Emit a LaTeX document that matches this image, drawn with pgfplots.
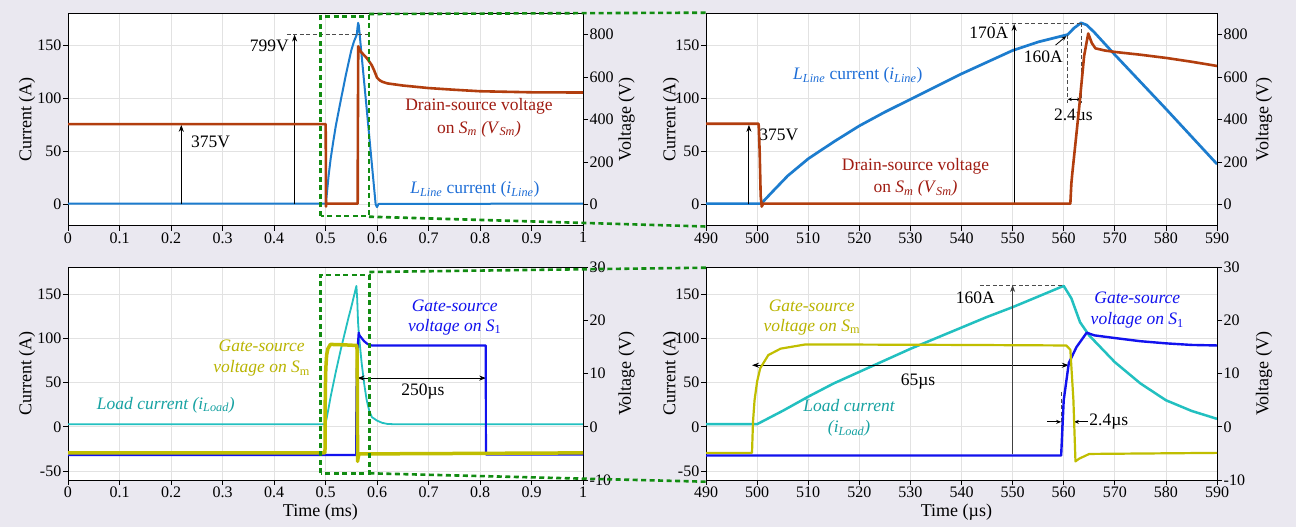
\documentclass[border=0pt]{standalone}
\usepackage{fontspec}
\setmainfont{Liberation Serif}
\usepackage{pgfplots}
\pgfplotsset{compat=1.18}
\usetikzlibrary{arrows.meta}
\definecolor{bgc}{RGB}{234,232,240}
\definecolor{gridc}{RGB}{226,226,226}
\definecolor{cblue}{RGB}{28,124,206}
\definecolor{cbrown}{RGB}{178,62,14}
\definecolor{tred}{RGB}{160,28,18}
\definecolor{tblue}{RGB}{30,110,215}
\definecolor{ccyan}{RGB}{34,192,192}
\definecolor{tcyan}{RGB}{22,162,162}
\definecolor{cyel}{RGB}{192,190,0}
\definecolor{tyel}{RGB}{185,180,0}
\definecolor{cgb}{RGB}{18,18,238}
\definecolor{zg}{RGB}{18,140,18}
\newcommand{\ann}{\fontsize{17.5bp}{21bp}\selectfont}
\newcommand{\Lline}{\textit{L}\textsubscript{\textit{Line}}}
\newcommand{\iline}{\textit{i}\textsubscript{\textit{Line}}}
\tikzset{
  arr/.style={-{Stealth[length=7bp,width=5bp]}, line width=1bp, black},
  darr/.style={{Stealth[length=7bp,width=5bp]}-{Stealth[length=7bp,width=5bp]}, line width=1bp, black},
  sarr/.style={-{Stealth[length=5bp,width=4bp]}, line width=0.8bp, black},
  dsh/.style={dash pattern=on 4bp off 2.5bp, line width=0.8bp, black!70},
  zoomg/.style={zg, line width=2.6bp, dash pattern=on 5bp off 3.5bp},
}
\pgfplotsset{
 base/.style={scale only axis, anchor=south west, tick align=outside,
   major tick length=5bp, tick style={black,line width=0.7bp},
   axis line style={black,line width=0.9bp},
   /pgf/number format/assume math mode=true,
   tick label style={font=\fontsize{16bp}{16bp}\selectfont, inner sep=1.5bp},
   label style={font=\fontsize{18bp}{18bp}\selectfont},
 },
 cur/.style={base, axis background/.style={fill=white}, grid=major,
   grid style={gridc,line width=0.7bp}, xtick pos=bottom, ytick pos=left,
   ylabel={Current (A)}},
 volt/.style={base, axis x line=none, axis y line*=right, ylabel={Voltage (V)}},
 topL/.style={at={(68bp,301.3bp)}, width=515bp, height=212.4bp, xmin=0, xmax=1},
 topR/.style={at={(706bp,301.3bp)}, width=511bp, height=212.4bp, xmin=490, xmax=590},
 botL/.style={at={(68bp,47bp)}, width=515bp, height=212.7bp, xmin=0, xmax=1},
 botR/.style={at={(706bp,47bp)}, width=511bp, height=212.7bp, xmin=490, xmax=590},
}
\begin{document}
\begin{tikzpicture}
\fill[bgc] (0bp,0bp) rectangle (1296bp,527bp);

% ---------------- top left ----------------
\begin{axis}[cur, topL, ymin=-20, ymax=180,
  xtick={0,0.1,0.2,0.3,0.4,0.5,0.6,0.7,0.8,0.9,1}, ytick={0,50,100,150},
  ylabel style={at={(axis description cs:-0.0796,0.5)},anchor=center}]
\addplot[cblue, line width=2bp, line join=round] coordinates {
(0,0.8) (0.5008,0.8) (0.503,12) (0.506,27) (0.51,43) (0.515,59) (0.52,74) (0.53,99) (0.54,123) (0.55,145) (0.555,153) (0.5608,160) (0.562,166) (0.5634,171) (0.5645,169) (0.566,162) (0.57,141) (0.58,90) (0.59,38) (0.5974,0) (0.6,-2.5) (0.603,0.5) (1,0.8)};
\draw[arr] (axis cs:0.22,0) -- (axis cs:0.22,75);
\node[font=\ann, anchor=west] at (axis cs:0.232,59) {375V};
\draw[arr] (axis cs:0.44,0) -- (axis cs:0.44,160);
\draw[dsh] (axis cs:0.425,160) -- (axis cs:0.585,160);
\node[font=\ann, anchor=east, inner sep=0pt] at (axis cs:0.429,149) {799V};
\node[font=\ann, text=tred] at (axis cs:0.798,92) {Drain-source voltage};
\node[font=\ann, text=tred] at (axis cs:0.798,71) {on \textit{S}\textsubscript{\textit{m}} \textit{(V}\textsubscript{\textit{Sm}}\textit{)}};
\node[font=\ann, text=tblue] at (axis cs:0.79,14) {\Lline{} current (\iline)};
\end{axis}
\begin{axis}[volt, topL, ymin=-100, ymax=900, ytick={0,200,400,600,800},
  ylabel style={at={(axis description cs:1.0847,0.5)},anchor=center}]
\addplot[cbrown, line width=2.6bp, line join=round] coordinates {
(0,378) (0.5003,378) (0.5006,250) (0.5009,-10) (0.5012,4) (0.5625,4) (0.5628,300) (0.5636,745) (0.5645,738) (0.566,730) (0.568,722) (0.57,715) (0.58,690) (0.59,655) (0.595,628) (0.6,597) (0.605,585) (0.61,578) (0.62,570) (0.65,560) (0.7,548) (0.75,540) (0.8,533) (0.9,528) (1,527)};
\end{axis}

% ---------------- top right ----------------
\begin{axis}[cur, topR, ymin=-20, ymax=180,
  xtick={490,500,...,590}, ytick={0,50,100,150},
  ylabel style={at={(axis description cs:-0.0685,0.5)},anchor=center}]
\addplot[cblue, line width=2.7bp, line join=round] coordinates {
(490,0.8) (500.8,0.8) (503,12) (506,27) (510,43) (515,59) (520,74) (525,87) (530,99) (535,111) (540,123) (545,134) (550,145) (555,153) (560.8,160) (562,166) (563.4,171) (564.5,169) (566,162) (570,141) (580,90) (590,38)};
\draw[arr] (axis cs:498.4,0) -- (axis cs:498.4,75);
\node[font=\ann, anchor=west, inner sep=1bp] at (axis cs:500.2,66) {375V};
\draw[arr] (axis cs:550.3,0) -- (axis cs:550.3,170);
\draw[dsh] (axis cs:546,170.5) -- (axis cs:563.4,170.5);
\node[font=\ann, anchor=east, inner sep=0pt] at (axis cs:549.2,162) {170A};
\node[font=\ann] at (axis cs:556,139.5) {160A};
\draw[sarr] (axis cs:558.4,150) -- (axis cs:560.5,158.5);
\draw[dsh] (axis cs:560.8,160) -- (axis cs:560.8,96);
\draw[dsh] (axis cs:563.4,171) -- (axis cs:563.4,96);
\draw[{Stealth[length=4bp,width=3.5bp]}-{Stealth[length=4bp,width=3.5bp]}, line width=0.8bp] (axis cs:560.8,99) -- (axis cs:563.4,99);
\node[font=\ann] at (axis cs:561.9,83) {2.4µs};
\node[font=\ann, text=tblue] at (axis cs:519.7,121.4) {\Lline{} current (\iline)};
\node[font=\ann, text=tred] at (axis cs:531,36) {Drain-source voltage};
\node[font=\ann, text=tred] at (axis cs:531,15) {on \textit{S}\textsubscript{\textit{m}} \textit{(V}\textsubscript{\textit{Sm}}\textit{)}};
\end{axis}
\begin{axis}[volt, topR, ymin=-100, ymax=900, ytick={0,200,400,600,800},
  ylabel style={at={(axis description cs:1.092,0.5)},anchor=center}]
\addplot[cbrown, line width=2.6bp, line join=round] coordinates {
(490,380) (500.3,380) (500.5,250) (500.7,40) (500.9,-10) (501.2,4) (561.3,4) (561.5,100) (561.7,150) (563,450) (564,700) (564.8,805) (565.5,760) (566.2,735) (568,725) (570,718) (575,705) (580,690) (585,672) (590,652)};
\end{axis}

% ---------------- bottom left ----------------
\begin{axis}[cur, botL, ymin=-60, ymax=180,
  xtick={0,0.1,0.2,0.3,0.4,0.5,0.6,0.7,0.8,0.9,1}, ytick={-50,0,50,100,150},
  ylabel style={at={(axis description cs:-0.0796,0.5)},anchor=center},
  xlabel={Time (ms)},
  xlabel style={at={(axis description cs:0.49,0)},anchor=center,yshift=-31.7bp}]
\addplot[ccyan, line width=1.8bp, line join=round] coordinates {
(0,3) (0.5,3) (0.502,9) (0.505,18) (0.51,34) (0.52,62) (0.53,88) (0.54,112) (0.545,124) (0.55,135) (0.555,147) (0.56,159) (0.5615,145) (0.5632,118) (0.565,103) (0.57,73) (0.575,49) (0.58,30) (0.585,18) (0.59,11) (0.6,7) (0.61,4.5) (0.62,3.3) (0.63,3) (1,3)};
\node[font=\ann\itshape, text=cgb] at (axis cs:0.751,137) {Gate-source};
\node[font=\ann\itshape, text=cgb] at (axis cs:0.751,112.6) {voltage on S\textsubscript{\upshape 1}};
\node[font=\ann\itshape, text=tyel] at (axis cs:0.376,91) {Gate-source};
\node[font=\ann\itshape, text=tyel] at (axis cs:0.376,65.7) {voltage on S\textsubscript{\upshape m}};
\draw[darr] (axis cs:0.562,55) -- (axis cs:0.812,55);
\node[font=\ann] at (axis cs:0.689,39.4) {250µs};
\node[font=\ann\itshape, text=tcyan] at (axis cs:0.19,24.4) {Load current (i\textsubscript{Load})};
\end{axis}
\begin{axis}[volt, botL, ymin=-10, ymax=30, ytick={-10,0,10,20,30},
  ylabel style={at={(axis description cs:1.0847,0.5)},anchor=center}]
\addplot[cgb, line width=2.2bp, line join=round] coordinates {
(0,-5.3) (0.5595,-5.3) (0.56,5) (0.561,12) (0.5625,15) (0.5645,17.7) (0.566,17.2) (0.57,16.7) (0.575,16.1) (0.58,15.7) (0.585,15.4) (0.59,15.3) (0.8112,15.3) (0.8115,-5.2) (1,-5.2)};
\addplot[cyel, line width=3.5bp, line join=round] coordinates {
(0,-4.9) (0.499,-4.9) (0.4992,1) (0.4995,5) (0.5,8.5) (0.5006,11) (0.5022,13.5) (0.5046,14.7) (0.5095,15.5) (0.54,15.4) (0.5605,15.3) (0.5613,14.5) (0.5619,5) (0.5623,-6.5) (0.563,-6) (0.565,-5.1) (1,-4.9)};
\end{axis}

% ---------------- bottom right ----------------
\begin{axis}[cur, botR, ymin=-60, ymax=180,
  xtick={490,500,...,590}, ytick={-50,0,50,100,150},
  ylabel style={at={(axis description cs:-0.0685,0.5)},anchor=center},
  xlabel={Time (µs)},
  xlabel style={at={(axis description cs:0.49,0)},anchor=center,yshift=-31.7bp}]
\addplot[ccyan, line width=2.5bp, line join=round] coordinates {
(490,3) (500,3) (502,9) (505,18) (510,34) (515,49) (520,62) (525,75) (530,88) (535,100) (540,112) (545,124) (550,135) (555,147) (560,159) (561.5,145) (563.2,118) (565,103) (570,73) (575,49) (580,30) (585,18) (590,9)};
\node[font=\ann\itshape, text=tyel] at (axis cs:510.7,137) {Gate-source};
\node[font=\ann\itshape, text=tyel] at (axis cs:510.7,112.6) {voltage on S\textsubscript{\upshape m}};
\node[font=\ann\itshape, text=cgb] at (axis cs:574.4,145.7) {Gate-source};
\node[font=\ann\itshape, text=cgb] at (axis cs:574.4,120) {voltage on S\textsubscript{\upshape 1}};
\draw[darr] (axis cs:499,69.5) -- (axis cs:561,69.5);
\node[font=\ann] at (axis cs:531.5,51.5) {65µs};
\draw[arr, black!75] (axis cs:550,-31) -- (axis cs:550,160);
\draw[dsh] (axis cs:543.6,160) -- (axis cs:560,160);
\node[font=\ann] at (axis cs:542.7,146) {160A};
\node[font=\ann\itshape, text=tcyan] at (axis cs:518,24.4) {Load current};
\node[font=\ann\itshape, text=tcyan] at (axis cs:518,-1.8) {(i\textsubscript{Load})};
\draw[dsh] (axis cs:559.5,39) -- (axis cs:559.5,-33);
\draw[dsh] (axis cs:562,7) -- (axis cs:562,-35);
\draw[sarr] (axis cs:556.8,5.6) -- (axis cs:559.5,5.6);
\draw[sarr] (axis cs:564.7,5.6) -- (axis cs:562,5.6);
\node[font=\ann, anchor=west, inner sep=1bp] at (axis cs:564.8,5.6) {2.4µs};
\end{axis}
\begin{axis}[volt, botR, ymin=-10, ymax=30, ytick={-10,0,10,20,30},
  ylabel style={at={(axis description cs:1.092,0.5)},anchor=center}]
\addplot[cgb, line width=2.4bp, line join=round] coordinates {
(490,-5.4) (559.5,-5.4) (560,5) (561,12) (562.5,15) (564.5,17.7) (566,17.2) (570,16.7) (575,16.1) (580,15.7) (585,15.4) (590,15.3)};
\addplot[cyel, line width=2.2bp, line join=round] coordinates {
(490,-4.9) (499,-4.9) (499.2,1) (499.5,5) (500,8.5) (500.6,11) (502.2,13.5) (504.6,14.7) (509.5,15.5) (540,15.4) (560.5,15.3) (561.3,14.5) (561.9,5) (562.3,-6.5) (563,-6) (565,-5.1) (590,-4.9)};
\end{axis}

% ---------------- zoom markers ----------------
\draw[zoomg] (320.7bp,311bp) rectangle (369bp,510.7bp);
\draw[zoomg] (369bp,513bp) -- (706bp,514.3bp);
\draw[zoomg] (369bp,310.3bp) -- (706bp,300.5bp);
\draw[zoomg] (320.7bp,53.7bp) rectangle (369.3bp,252bp);
\draw[zoomg] (369.3bp,255bp) -- (706bp,259.3bp);
\draw[zoomg] (369.3bp,53.7bp) -- (706bp,45.3bp);

\pgfresetboundingbox
\path[use as bounding box] (0bp,0bp) rectangle (1296bp,527bp);
\end{tikzpicture}
\end{document}
